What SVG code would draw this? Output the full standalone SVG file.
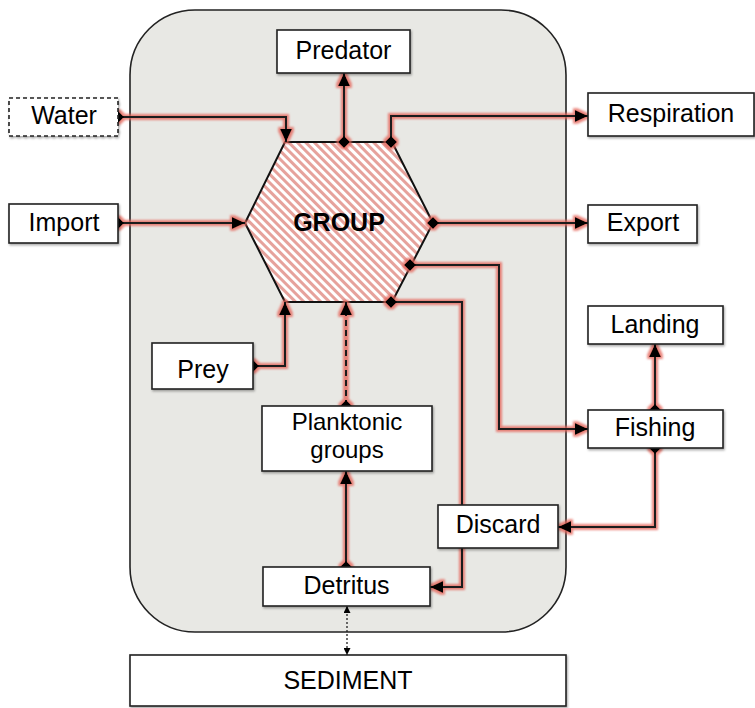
<svg xmlns="http://www.w3.org/2000/svg" width="755" height="708" viewBox="0 0 755 708">
<style>
.box{fill:#ffffff;stroke:#222;stroke-width:1.6;filter:url(#shadow)}
.lbl{font-family:"Liberation Sans",Arial,Helvetica,sans-serif;font-size:25px;fill:#000;text-anchor:middle}
.conn{fill:none;stroke:#1a1a1a;stroke-width:2;marker-start:url(#dia);marker-end:url(#arr)}
</style>
<defs>
<pattern id="hatch" width="6" height="6" patternUnits="userSpaceOnUse" patternTransform="rotate(-45)">
<rect width="6" height="6" fill="#ffffff"/>
<rect width="3" height="6" fill="#e6a29c"/>
</pattern>
<filter id="shadow" x="-10%" y="-10%" width="130%" height="140%">
<feDropShadow dx="1" dy="1.5" stdDeviation="1" flood-color="#000" flood-opacity="0.35"/>
</filter>
<filter id="glow" filterUnits="userSpaceOnUse" x="0" y="0" width="755" height="708">
<feMorphology in="SourceAlpha" operator="dilate" radius="1.6" result="d"/>
<feGaussianBlur in="d" stdDeviation="1.2" result="b"/>
<feFlood flood-color="#e5675c" flood-opacity="0.8"/>
<feComposite in2="b" operator="in" result="g"/>
<feMerge><feMergeNode in="g"/><feMergeNode in="SourceGraphic"/></feMerge>
</filter>
<marker id="arr" markerUnits="userSpaceOnUse" markerWidth="13" markerHeight="12" refX="13" refY="6" orient="auto">
<path d="M0,0 L13,6 L0,12 z" fill="#000"/>
</marker>
<marker id="dia" markerUnits="userSpaceOnUse" markerWidth="12" markerHeight="12" refX="6" refY="6" orient="auto">
<path d="M0,6 L6,0 L12,6 L6,12 z" fill="#000"/>
</marker>
<marker id="sarr" markerUnits="userSpaceOnUse" markerWidth="7" markerHeight="7" refX="7" refY="3.5" orient="auto-start-reverse">
<path d="M0,0 L7,3.5 L0,7 z" fill="#000"/>
</marker>
</defs>

<rect width="755" height="708" fill="#ffffff"/>
<g id="domain">
<rect x="130" y="10" width="436" height="622" rx="65" ry="65" fill="#e8e8e4" stroke="#222" stroke-width="1.6"/>
</g>

<g id="group-node">
<polygon points="285,142 392,142 433,223 392,302 285,302 245,223" fill="url(#hatch)" stroke="#111" stroke-width="2"/>
<text class="lbl" x="339" y="231" font-weight="bold">GROUP</text>
</g>

<g id="connectors">
<g filter="url(#glow)">
<path class="conn" d="M118,117 H286 V142"/>
<path class="conn" d="M118,223 H245"/>
<path class="conn" d="M344,142 V73"/>
<path class="conn" d="M391,142 V116 H588"/>
<path class="conn" d="M433,223 H588"/>
<path class="conn" d="M410,265 H499 V429 H588"/>
<path class="conn" d="M391,302 H462 V587 H430"/>
<path class="conn" d="M253,366 H285 V302"/>
<path class="conn" d="M346,406 V302" stroke-dasharray="6,4"/>
<path class="conn" d="M346,567 V471"/>
<path class="conn" d="M655,410 V344"/>
<path class="conn" d="M655,448 V527 H558"/>
</g>
<path d="M347,606 V655" fill="none" stroke="#222" stroke-width="1.3" stroke-dasharray="2,2" marker-start="url(#sarr)" marker-end="url(#sarr)"/>
</g>

<g id="predator"><rect class="box" x="277" y="30" width="133" height="43"/><text class="lbl" x="343.5" y="59">Predator</text></g>
<g id="water"><rect class="box" x="9" y="98" width="109" height="38" stroke-dasharray="4,3"/><text class="lbl" x="64" y="124">Water</text></g>
<g id="import"><rect class="box" x="9" y="204" width="109" height="39"/><text class="lbl" x="64" y="231">Import</text></g>
<g id="respiration"><rect class="box" x="588" y="93" width="166" height="43"/><text class="lbl" x="671" y="122">Respiration</text></g>
<g id="export"><rect class="box" x="588" y="205" width="109" height="38"/><text class="lbl" x="643" y="231">Export</text></g>
<g id="prey"><rect class="box" x="152" y="343" width="101" height="46"/><text class="lbl" x="203" y="378">Prey</text></g>
<g id="planktonic"><rect class="box" x="262" y="406" width="170" height="65"/><text class="lbl" style="font-size:24px"><tspan x="347" y="430">Planktonic</tspan><tspan x="347" y="458">groups</tspan></text></g>
<g id="landing"><rect class="box" x="588" y="306" width="135" height="38"/><text class="lbl" x="655" y="333">Landing</text></g>
<g id="fishing"><rect class="box" x="588" y="410" width="135" height="38"/><text class="lbl" x="655" y="436">Fishing</text></g>
<g id="discard"><rect class="box" x="438" y="505" width="120" height="43"/><text class="lbl" x="498" y="533">Discard</text></g>
<g id="detritus"><rect class="box" x="263" y="567" width="167" height="39"/><text class="lbl" x="346.5" y="594">Detritus</text></g>
<g id="sediment"><rect class="box" x="130" y="655" width="436" height="51"/><text class="lbl" x="348" y="689">SEDIMENT</text></g>
</svg>
